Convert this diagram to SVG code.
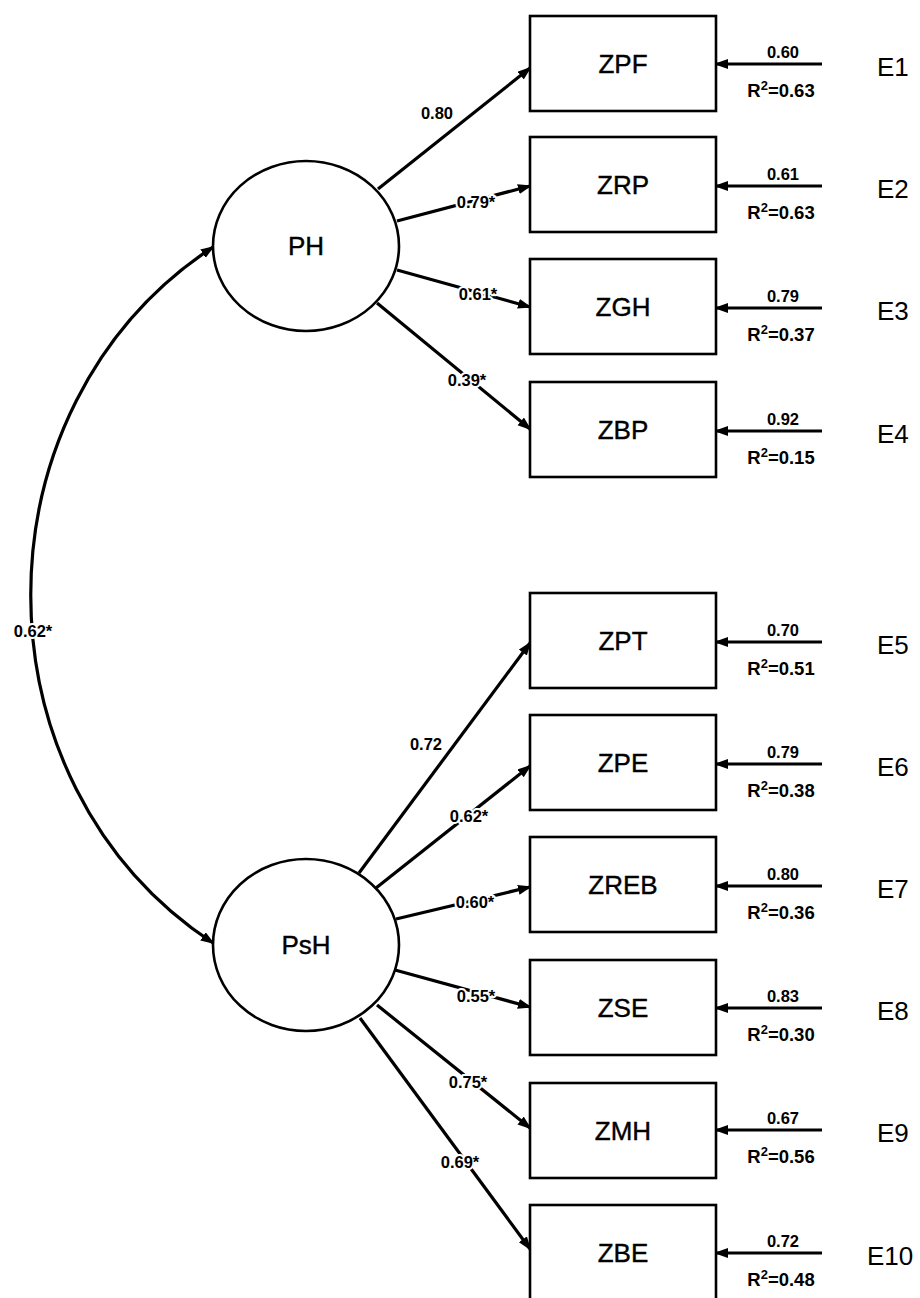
<svg xmlns="http://www.w3.org/2000/svg" width="920" height="1298" viewBox="0 0 920 1298">
<defs>
<marker id="ah" markerUnits="userSpaceOnUse" markerWidth="15" markerHeight="11" refX="12" refY="5" orient="auto-start-reverse" viewBox="0 0 15 11">
<path d="M0,0 L14,5 L0,10 z" fill="#000"/>
</marker>
<style>
.box{fill:#fff;stroke:#000;stroke-width:2.6}
.lat{fill:#fff;stroke:#000;stroke-width:2.6}
.big{font-family:"Liberation Sans",Arial,sans-serif;font-size:26px;fill:#000;text-anchor:middle;stroke:#000;stroke-width:0.4}
.elab{font-family:"Liberation Sans",Arial,sans-serif;font-size:26px;fill:#000}
.num{font-family:"Liberation Sans",Arial,sans-serif;font-size:16.5px;font-weight:bold;fill:#000;text-anchor:middle;stroke:#fff;stroke-width:4;paint-order:stroke;stroke-linejoin:round}
.r2{font-family:"Liberation Sans",Arial,sans-serif;font-size:18.5px;font-weight:bold;fill:#000;text-anchor:middle}
.sup{font-size:13px}
.c{fill:none;stroke:#000;stroke-width:3.2;marker-end:url(#ah)}
.cov{fill:none;stroke:#000;stroke-width:3.2;marker-start:url(#ah);marker-end:url(#ah)}
</style>
</defs>
<rect width="920" height="1298" fill="#fff"/>

<g id="connectors">
<path class="cov" d="M213,247 C-30,407 -30,783 213,943"/>
<line class="c" x1="378" y1="189" x2="530" y2="68"/>
<line class="c" x1="397" y1="221" x2="530" y2="186"/>
<line class="c" x1="397" y1="270" x2="530" y2="307"/>
<line class="c" x1="377" y1="303" x2="530" y2="429"/>
<line class="c" x1="359" y1="873" x2="530" y2="643"/>
<line class="c" x1="376" y1="888" x2="530" y2="766"/>
<line class="c" x1="396" y1="919" x2="530" y2="887"/>
<line class="c" x1="395" y1="970" x2="530" y2="1007"/>
<line class="c" x1="377" y1="1005" x2="530" y2="1128"/>
<line class="c" x1="360" y1="1018" x2="530" y2="1249"/>
<line class="c" x1="822" y1="64" x2="716" y2="64"/>
<line class="c" x1="822" y1="186" x2="716" y2="186"/>
<line class="c" x1="822" y1="308" x2="716" y2="308"/>
<line class="c" x1="822" y1="431" x2="716" y2="431"/>
<line class="c" x1="822" y1="642" x2="716" y2="642"/>
<line class="c" x1="822" y1="764" x2="716" y2="764"/>
<line class="c" x1="822" y1="886" x2="716" y2="886"/>
<line class="c" x1="822" y1="1008" x2="716" y2="1008"/>
<line class="c" x1="822" y1="1130" x2="716" y2="1130"/>
<line class="c" x1="822" y1="1253" x2="716" y2="1253"/>
<text class="num" x="33" y="637">0.62*</text>
<text class="num" x="437" y="119">0.80</text>
<text class="num" x="476" y="208">0.79*</text>
<text class="num" x="478" y="300">0.61*</text>
<text class="num" x="467" y="386">0.39*</text>
<text class="num" x="426" y="750">0.72</text>
<text class="num" x="469" y="822">0.62*</text>
<text class="num" x="475" y="908">0.60*</text>
<text class="num" x="476" y="1002">0.55*</text>
<text class="num" x="468" y="1088">0.75*</text>
<text class="num" x="460" y="1168">0.69*</text>
</g>

<g id="PH"><ellipse class="lat" cx="306" cy="246" rx="93" ry="85"/><text class="big" x="306" y="255">PH</text></g>
<g id="PsH"><ellipse class="lat" cx="306" cy="945" rx="93" ry="86"/><text class="big" x="306" y="954">PsH</text></g>

<g id="ZPF"><rect class="box" x="530" y="16" width="186" height="95"/><text class="big" x="623" y="73">ZPF</text></g>
<g id="ZRP"><rect class="box" x="530" y="137" width="186" height="95"/><text class="big" x="623" y="194">ZRP</text></g>
<g id="ZGH"><rect class="box" x="530" y="259" width="186" height="95"/><text class="big" x="623" y="316">ZGH</text></g>
<g id="ZBP"><rect class="box" x="530" y="382" width="186" height="95"/><text class="big" x="623" y="439">ZBP</text></g>
<g id="ZPT"><rect class="box" x="530" y="593" width="186" height="95"/><text class="big" x="623" y="650">ZPT</text></g>
<g id="ZPE"><rect class="box" x="530" y="715" width="186" height="95"/><text class="big" x="623" y="772">ZPE</text></g>
<g id="ZREB"><rect class="box" x="530" y="837" width="186" height="95"/><text class="big" x="623" y="894">ZREB</text></g>
<g id="ZSE"><rect class="box" x="530" y="960" width="186" height="95"/><text class="big" x="623" y="1017">ZSE</text></g>
<g id="ZMH"><rect class="box" x="530" y="1083" width="186" height="95"/><text class="big" x="623" y="1140">ZMH</text></g>
<g id="ZBE"><rect class="box" x="530" y="1205" width="186" height="95"/><text class="big" x="623" y="1262">ZBE</text></g>

<g id="E1"><text class="num" x="783" y="58">0.60</text><text class="r2" x="781" y="97">R<tspan class="sup" dy="-7">2</tspan><tspan dy="7">=0.63</tspan></text><text class="elab" x="877" y="76">E1</text></g>
<g id="E2"><text class="num" x="783" y="180">0.61</text><text class="r2" x="781" y="219">R<tspan class="sup" dy="-7">2</tspan><tspan dy="7">=0.63</tspan></text><text class="elab" x="877" y="198">E2</text></g>
<g id="E3"><text class="num" x="783" y="302">0.79</text><text class="r2" x="781" y="341">R<tspan class="sup" dy="-7">2</tspan><tspan dy="7">=0.37</tspan></text><text class="elab" x="877" y="320">E3</text></g>
<g id="E4"><text class="num" x="783" y="425">0.92</text><text class="r2" x="781" y="464">R<tspan class="sup" dy="-7">2</tspan><tspan dy="7">=0.15</tspan></text><text class="elab" x="877" y="443">E4</text></g>
<g id="E5"><text class="num" x="783" y="636">0.70</text><text class="r2" x="781" y="675">R<tspan class="sup" dy="-7">2</tspan><tspan dy="7">=0.51</tspan></text><text class="elab" x="877" y="654">E5</text></g>
<g id="E6"><text class="num" x="783" y="758">0.79</text><text class="r2" x="781" y="797">R<tspan class="sup" dy="-7">2</tspan><tspan dy="7">=0.38</tspan></text><text class="elab" x="877" y="776">E6</text></g>
<g id="E7"><text class="num" x="783" y="880">0.80</text><text class="r2" x="781" y="919">R<tspan class="sup" dy="-7">2</tspan><tspan dy="7">=0.36</tspan></text><text class="elab" x="877" y="898">E7</text></g>
<g id="E8"><text class="num" x="783" y="1002">0.83</text><text class="r2" x="781" y="1041">R<tspan class="sup" dy="-7">2</tspan><tspan dy="7">=0.30</tspan></text><text class="elab" x="877" y="1020">E8</text></g>
<g id="E9"><text class="num" x="783" y="1124">0.67</text><text class="r2" x="781" y="1163">R<tspan class="sup" dy="-7">2</tspan><tspan dy="7">=0.56</tspan></text><text class="elab" x="877" y="1142">E9</text></g>
<g id="E10"><text class="num" x="783" y="1247">0.72</text><text class="r2" x="781" y="1286">R<tspan class="sup" dy="-7">2</tspan><tspan dy="7">=0.48</tspan></text><text class="elab" x="867" y="1265">E10</text></g>
</svg>
